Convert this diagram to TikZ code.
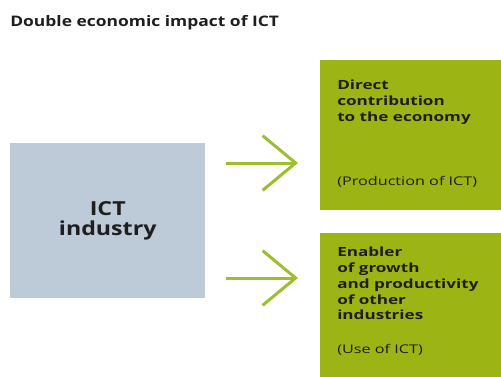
\documentclass[tikz,border=0pt]{standalone}
\usepackage{fontspec}
\setmainfont{Open Sans}
\newfontfamily\widesans[FakeStretch=1.2]{Open Sans}
\newfontfamily\boxsans[FakeStretch=1.35]{Open Sans}
\usetikzlibrary{arrows.meta,positioning}
\definecolor{ictgray}{HTML}{BDCAD7}
\definecolor{ictgreen}{HTML}{9CB515}
\definecolor{arrowgreen}{HTML}{9CBF2E}
\definecolor{darktext}{HTML}{1E1E1E}
\tikzset{
  graybox/.style={fill=ictgray,minimum width=146.25pt,minimum height=116.25pt,inner sep=0pt,align=center},
  greenbox/.style={fill=ictgreen,minimum width=140pt,minimum height=112pt,inner sep=0pt},
  headtext/.style={text=darktext,inner sep=0pt,align=left,font=\boxsans\bfseries\fontsize{9.5}{11.8}\selectfont},
  subtext/.style={text=darktext,inner sep=0pt,font=\boxsans\fontsize{9}{11.5}\selectfont},
  bigarrow/.style={-{Straight Barb[length=24.75pt,width=41pt]},line width=2.25pt,arrowgreen}
}
\begin{document}
\begin{tikzpicture}[x=0.75pt,y=-0.75pt]
  \clip (0,0) rectangle (501,376);
  \node[anchor=base west,inner sep=0pt,text=darktext,font=\widesans\bfseries\fontsize{10.9}{12}\selectfont] (title) at (10,26) {Double economic impact of ICT};
  % source box and the two green outcome boxes
  \node[graybox,anchor=north west,font=\widesans\bfseries\fontsize{14.5}{15}\selectfont,text=darktext] (ict) at (10,143) {ICT\\industry};
  \node[greenbox,anchor=north west] (direct) at (320,60) {};
  \node[greenbox,anchor=north west] (enabler) at (320,233) {};
  \node[headtext,anchor=north west] (directhead) at ([shift={(17,20)}]direct.north west) {Direct\\contribution\\to the economy};
  \node[subtext,anchor=base west] (directsub) at ([shift={(17,125)}]direct.north west) {(Production of ICT)};
  \node[headtext,anchor=north west] (enablerhead) at ([shift={(17,14)}]enabler.north west) {Enabler\\of growth\\and productivity\\of other\\industries};
  \node[subtext,anchor=base west] (enablersub) at ([shift={(17,120)}]enabler.north west) {(Use of ICT)};
  % arrows between the boxes
  \coordinate (upfrom) at (226,163);
  \coordinate (upto) at (298,163);
  \coordinate (lowfrom) at (226,278);
  \coordinate (lowto) at (298,278);
  \draw[bigarrow] (upfrom) -- (upto);
  \draw[bigarrow] (lowfrom) -- (lowto);
\end{tikzpicture}
\end{document}
